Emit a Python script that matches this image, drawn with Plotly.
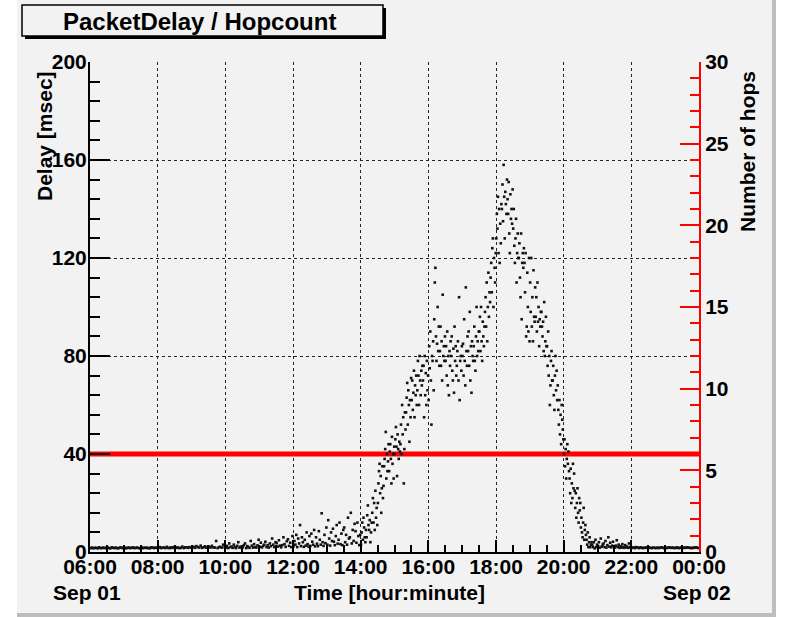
import plotly.graph_objects as go

# ---------------- data ----------------
START_HOUR = 6.0          # 06:00 Sep 01
WINDOW_MIN = 10           # delays grouped per 10-minute window

# 06:00 - 10:00 (24 windows)
delays_0600_1000 = [
    [1.6, 1.8, 1.5, 1.7], [1.7, 1.5, 1.9, 1.6], [1.6, 1.8, 1.6, 1.7], [1.8, 1.6, 1.5, 1.9],
    [1.7, 1.6, 1.8, 1.5], [1.6, 1.9, 1.7, 1.6], [1.8, 1.5, 1.7, 1.8], [1.6, 1.7, 1.9, 1.6],
    [1.7, 1.8, 1.6, 1.5], [1.9, 1.6, 1.7, 1.8], [1.6, 1.7, 1.5, 1.9], [1.8, 1.6, 1.8, 1.7],
    [1.7, 2.0, 1.6, 1.8], [1.8, 1.6, 2.1, 1.7], [1.6, 1.9, 1.7, 2.0], [2.0, 1.7, 1.8, 1.6],
    [1.7, 2.2, 1.6, 1.9], [1.9, 1.7, 2.0, 1.8], [1.8, 2.1, 1.7, 2.4], [2.0, 1.8, 2.6, 1.7],
    [1.9, 2.3, 1.8, 2.0], [2.2, 1.8, 2.5, 1.9], [1.8, 4.5, 1.6, 2.0], [2.1, 1.8, 3.0, 1.9],
]
# 10:00 - 12:00 (12 windows)
delays_1000_1200 = [
    [1.8, 2.5, 1.6, 3.5, 2.0], [2.2, 1.7, 3.0, 2.0, 1.6], [2.5, 4.0, 1.8, 2.2, 1.7],
    [1.9, 2.8, 3.5, 1.6, 2.4], [2.0, 1.7, 4.5, 2.6, 1.8], [3.2, 2.0, 1.8, 2.7, 5.0],
    [2.1, 3.8, 1.9, 2.5, 3.0], [4.2, 2.0, 2.8, 1.8, 3.5], [2.4, 5.5, 3.0, 2.0, 4.0],
    [3.6, 2.2, 4.8, 2.6, 1.9], [2.8, 6.0, 3.2, 2.1, 4.4], [5.2, 2.5, 3.8, 2.0, 6.5],
]
# 12:00 - 14:00 (12 windows)
delays_1200_1400 = [
    [2.2, 4.5, 3.0, 7.0, 2.0, 5.5], [3.5, 11.0, 2.4, 6.0, 4.0, 2.1], [5.0, 2.6, 8.0, 3.2, 2.2, 6.5],
    [2.5, 7.5, 4.2, 3.0, 9.0, 2.3], [6.0, 3.4, 2.4, 8.5, 5.0, 3.0], [15.8, 4.0, 2.5, 7.0, 3.6, 10.0],
    [3.0, 13.0, 5.5, 2.6, 8.0, 4.5], [9.5, 4.2, 2.8, 6.5, 11.0, 3.4], [5.0, 12.0, 3.2, 7.5, 2.8, 9.0],
    [10.0, 4.0, 7.0, 3.0, 14.0, 5.5], [6.0, 16.0, 3.5, 9.0, 4.5, 11.5], [8.5, 3.8, 12.0, 6.5, 2.8, 7.0],
]
# 14:00 - 21:00 (42 windows)
delays_1400_2100 = [
    [3, 8, 12, 5, 14, 10, 6, 4, 9], [6, 15, 19, 11, 9, 13, 4, 8, 12], [16, 22, 12, 20, 9, 25, 14, 18, 11],
    [20, 28, 33, 36, 24, 31, 16, 26, 35, 22], [27, 35, 38, 42, 49, 30, 40, 33, 37, 44],
    [33, 41, 44, 38, 28, 47, 36, 40, 30, 43], [40, 46, 51, 43, 31, 48, 42, 38, 45, 41],
    [44, 52, 40, 60, 48, 55, 28, 42, 57, 50], [57, 63, 69, 52, 66, 60, 45, 62, 55, 71],
    [62, 70, 58, 65, 74, 55, 68, 64, 72, 60], [66, 78, 72, 60, 80, 70, 64, 74, 68, 76],
    [70, 76, 55, 80, 64, 73, 60, 78, 66, 72], [62, 84, 75, 90, 70, 52, 80, 78, 86, 66],
    [95, 110, 116, 88, 78, 85, 100, 82, 92, 76], [82, 92, 76, 86, 70, 105, 80, 84, 78, 88],
    [78, 84, 72, 90, 68, 80, 64, 82, 76, 86], [80, 88, 74, 70, 83, 65, 92, 78, 84, 72],
    [76, 82, 86, 70, 104, 62, 78, 80, 74, 84], [80, 85, 72, 95, 78, 68, 108, 82, 76, 88],
    [82, 90, 76, 98, 70, 84, 65, 86, 80, 78], [84, 92, 78, 74, 88, 100, 80, 86, 82, 90],
    [90, 96, 82, 100, 86, 78, 94, 88, 84, 92], [98, 104, 92, 110, 86, 100, 114, 96, 106, 102],
    [112, 118, 106, 124, 128, 100, 120, 116, 110, 122], [128, 138, 132, 145, 122, 140, 118, 134, 126, 142],
    [140, 150, 135, 158, 145, 128, 147, 142, 138, 152], [144, 138, 151, 130, 122, 146, 136, 140, 134, 148],
    [132, 140, 125, 118, 128, 136, 110, 122, 130, 120], [120, 126, 112, 104, 130, 95, 118, 122, 116, 124],
    [118, 106, 122, 88, 92, 114, 100, 90, 120, 86], [110, 98, 120, 92, 104, 86, 115, 96, 94, 108],
    [96, 104, 90, 110, 94, 100, 84, 95, 92, 98], [98, 92, 88, 94, 82, 102, 80, 86, 96, 84],
    [84, 76, 90, 72, 80, 60, 68, 78, 82, 70], [70, 76, 64, 58, 72, 80, 66, 74, 62, 68],
    [58, 52, 62, 48, 56, 44, 60, 54, 50, 46], [40, 46, 35, 42, 30, 38, 44, 36, 41, 33],
    [30, 24, 34, 20, 28, 22, 36, 26, 32, 25], [18, 24, 14, 20, 26, 16, 12, 22, 17, 20],
    [10, 14, 8, 6, 12, 18, 5, 9, 11, 7], [5, 3, 8, 2, 4, 6, 2, 3, 4], [3, 2, 4, 1.5, 5, 2, 3],
]
# 21:00 - 24:00 (18 windows)
delays_2100_2400 = [
    [2.5, 4.0, 1.8, 5.5, 2.2, 3.0], [3.5, 2.0, 4.5, 1.8, 2.8, 6.0], [2.2, 3.8, 1.9, 2.6, 4.2, 2.0],
    [1.8, 2.6, 4.8, 2.0, 3.0, 1.7], [2.4, 1.8, 3.2, 2.0, 1.7, 2.8], [1.9, 2.2, 1.7, 3.5, 2.0, 1.8],
    [1.7, 1.9, 1.6, 2.0], [1.8, 1.6, 1.9, 1.7], [1.6, 1.8, 1.7, 1.9], [1.9, 1.7, 1.6, 1.8],
    [1.7, 1.6, 1.8, 1.6], [1.8, 1.9, 1.7, 1.6], [1.6, 1.7, 1.9, 1.8], [1.7, 1.8, 1.6, 1.7],
    [1.9, 1.6, 1.7, 1.8], [1.6, 1.8, 1.7, 1.9], [1.8, 1.7, 1.6, 1.7], [1.7, 1.9, 1.8, 1.6],
]

# hop count (right axis)
hop_hours = [6, 7, 8, 9, 10, 11, 12, 13, 14, 15, 16, 17, 18, 19, 20, 21, 22, 23, 24]
hop_counts = [6, 6, 6, 6, 6, 6, 6, 6, 6, 6, 6, 6, 6, 6, 6, 6, 6, 6, 6]

# axis ticks
x_tickvals = [6, 8, 10, 12, 14, 16, 18, 20, 22, 24]
x_ticktext = ["06:00", "08:00", "10:00", "12:00", "14:00", "16:00", "18:00", "20:00", "22:00", "00:00"]
delay_ticks = [0, 40, 80, 120, 160, 200]
hop_ticks = [0, 5, 10, 15, 20, 25, 30]

# ---------------- build points ----------------
windows = delays_0600_1000 + delays_1000_1200 + delays_1200_1400 + delays_1400_2100 + delays_2100_2400
t_hours, delay_ms = [], []
for i, vals in enumerate(windows):
    w0 = START_HOUR + i * WINDOW_MIN / 60.0
    n = len(vals)
    for j, v in enumerate(vals):
        t_hours.append(w0 + (j + 0.5) * WINDOW_MIN / 60.0 / n)
        delay_ms.append(v)

BG = "#f2f2f2"
FONT = "Liberation Sans, Arial, Helvetica, sans-serif"

fig = go.Figure()
fig.add_trace(go.Scatter(
    x=hop_hours, y=hop_counts, mode="lines", yaxis="y",
    line=dict(color="#ff0000", width=5), hoverinfo="skip"))
fig.add_trace(go.Scatter(
    x=t_hours, y=delay_ms, mode="markers", yaxis="y2",
    marker=dict(symbol="square", size=2.6, color="#111111", line=dict(width=0))))

# plot area in pixels: x 90..699, y 62..552
L, R, T, B = 90, 699, 62, 552
def px(x):
    return (x - L) / (R - L)
def py(y):
    return (B - y) / (B - T)

shapes = [
    # canvas
    dict(type="rect", xref="paper", yref="paper", x0=px(17), x1=px(772), y0=py(613), y1=py(0),
         fillcolor=BG, line=dict(width=0), layer="below"),
    dict(type="rect", xref="paper", yref="paper", x0=px(772), x1=px(776), y0=py(617), y1=py(0),
         fillcolor="#bdbdbd", line=dict(width=0), layer="below"),
    dict(type="rect", xref="paper", yref="paper", x0=px(17), x1=px(776), y0=py(617), y1=py(613),
         fillcolor="#bdbdbd", line=dict(width=0), layer="below"),
    # title box shadow and box
    dict(type="rect", xref="paper", yref="paper", x0=px(25), x1=px(386), y0=py(39), y1=py(8),
         fillcolor="black", line=dict(width=0), layer="above"),
    dict(type="rect", xref="paper", yref="paper", x0=px(22), x1=px(383), y0=py(36), y1=py(5),
         fillcolor=BG, line=dict(color="black", width=1.5), layer="above"),
]

bold = dict(family=FONT, size=21, color="black", weight="bold")
def ann(text, x, y, size=21, angle=0):
    return dict(text=text, x=px(x), y=py(y), xref="paper", yref="paper",
                xanchor="center", yanchor="middle", textangle=angle, showarrow=False,
                font=dict(family=FONT, size=size, color="black", weight="bold"))

annotations = [
    ann("PacketDelay / Hopcount", 199, 21, size=24),
    ann("Delay [msec]", 44, 136, angle=-90),
    ann("Number of hops", 747, 151, angle=-90),
    ann("Time [hour:minute]", 389, 592),
    ann("Sep 01", 87, 592),
    ann("Sep 02", 697, 592),
]

fig.update_layout(
    width=794, height=617,
    margin=dict(l=L, r=794 - R, t=T, b=617 - B, autoexpand=False),
    paper_bgcolor="white", plot_bgcolor=BG,
    showlegend=False,
    font=dict(family=FONT, size=21, color="black"),
    shapes=shapes, annotations=annotations,
    xaxis=dict(
        range=[6, 24], tickmode="array", tickvals=x_tickvals, ticktext=x_ticktext,
        ticks="inside", ticklen=12, tickwidth=1.5, tickcolor="black",
        showline=True, linecolor="black", linewidth=2,
        showgrid=True, gridcolor="#222222", gridwidth=1, griddash="dot", zeroline=False,
        minor=dict(tickmode="linear", tick0=6, dtick=0.5, ticks="inside", ticklen=7,
                   tickcolor="black", showgrid=False),
        tickfont=bold, ticklabelstandoff=-5, fixedrange=True,
    ),
    yaxis=dict(
        range=[0, 30], side="right", tickmode="array", tickvals=hop_ticks,
        ticks="inside", ticklen=19, tickwidth=1.5, tickcolor="#ff0000",
        showline=True, linecolor="#ff0000", linewidth=2,
        showgrid=False, zeroline=False,
        minor=dict(tickmode="linear", tick0=0, dtick=1, ticks="inside", ticklen=9,
                   tickcolor="#ff0000", showgrid=False),
        tickfont=bold,
    ),
    yaxis2=dict(
        range=[0, 200], side="left", overlaying="y", anchor="x",
        tickmode="array", tickvals=delay_ticks,
        ticks="inside", ticklen=20, tickwidth=1.5, tickcolor="black",
        showline=True, linecolor="black", linewidth=2,
        showgrid=True, gridcolor="#222222", gridwidth=1, griddash="dot", zeroline=False,
        minor=dict(tickmode="linear", tick0=0, dtick=8, ticks="inside", ticklen=10,
                   tickcolor="black", showgrid=False),
        tickfont=bold, ticklabelstandoff=-3,
    ),
)

fig.write_html("out.html", config={"displayModeBar": False},
               post_script="document.body.style.margin='0';document.body.style.overflow='hidden';")
